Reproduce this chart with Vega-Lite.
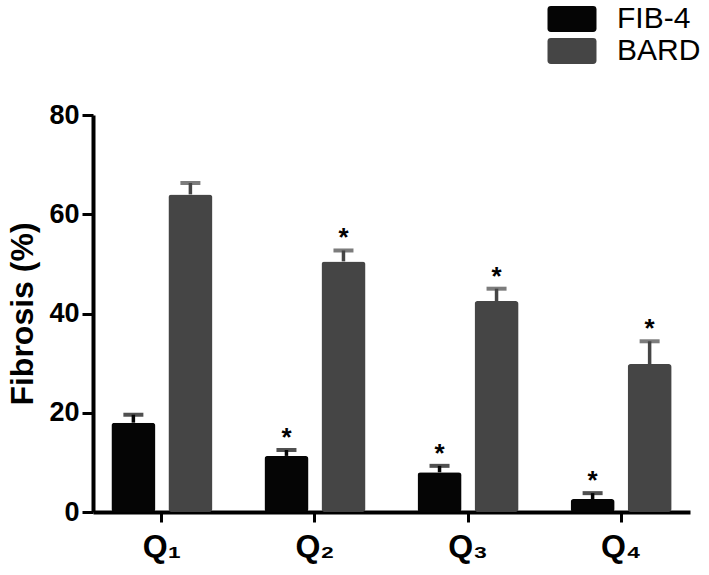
{
  "$schema": "https://vega.github.io/schema/vega-lite/v6.json",
  "width": 597,
  "height": 397,
  "autosize": {"type": "none"},
  "padding": {"left": 93, "top": 115, "right": 19, "bottom": 63},
  "config": {"view": {"stroke": null}, "font": "Liberation Sans"},
  "data": {"values": [
    {"q": "Q₁", "index": "FIB-4", "value": 18.0, "upper": 19.6, "sig": ""},
    {"q": "Q₁", "index": "BARD", "value": 64.0, "upper": 66.3, "sig": ""},
    {"q": "Q₂", "index": "FIB-4", "value": 11.3, "upper": 12.5, "sig": "*"},
    {"q": "Q₂", "index": "BARD", "value": 50.5, "upper": 52.7, "sig": "*"},
    {"q": "Q₃", "index": "FIB-4", "value": 8.0, "upper": 9.3, "sig": "*"},
    {"q": "Q₃", "index": "BARD", "value": 42.5, "upper": 45.0, "sig": "*"},
    {"q": "Q₄", "index": "FIB-4", "value": 2.6, "upper": 3.8, "sig": "*"},
    {"q": "Q₄", "index": "BARD", "value": 29.8, "upper": 34.4, "sig": "*"}
  ]},
  "encoding": {
    "x": {
      "field": "q", "type": "nominal", "sort": ["Q₁", "Q₂", "Q₃", "Q₄"],
      "scale": {"paddingInner": 0.34, "paddingOuter": 0.12},
      "axis": {
        "title": null, "labelAngle": 0, "labelFontSize": 32, "labelFontWeight": "bold",
        "labelColor": "#000", "labelPadding": 9, "domainColor": "#000", "domainWidth": 4,
        "tickColor": "#000", "tickWidth": 3, "tickSize": 10
      }
    },
    "xOffset": {"field": "index", "type": "nominal", "sort": ["FIB-4", "BARD"], "scale": {"paddingInner": 0.228}},
    "color": {
      "field": "index", "type": "nominal", "sort": ["FIB-4", "BARD"],
      "scale": {"domain": ["FIB-4", "BARD"], "range": ["#050505", "#454545"]},
      "legend": {
        "title": null, "orient": "none", "legendX": 464, "legendY": -111,
        "symbolType": "M-1.72,-1.06H1.72Q2,-1.06 2,-0.78V0.78Q2,1.06 1.72,1.06H-1.72Q-2,1.06 -2,0.78V-0.78Q-2,-1.06 -1.72,-1.06Z",
        "symbolSize": 600, "symbolStrokeWidth": 0, "symbolOpacity": 1,
        "labelFontSize": 30, "labelColor": "#000", "labelOffset": 30, "rowPadding": 2, "padding": 0
      }
    }
  },
  "layer": [
    {
      "mark": {"type": "rule", "strokeWidth": 3.5},
      "encoding": {
        "y": {"field": "value", "type": "quantitative"},
        "y2": {"field": "upper"}
      }
    },
    {
      "mark": {"type": "tick", "size": 20, "thickness": 4},
      "encoding": {
        "y": {"field": "upper", "type": "quantitative"}
      }
    },
    {
      "mark": {"type": "bar", "cornerRadius": 3},
      "encoding": {
        "y": {
          "field": "value", "type": "quantitative",
          "scale": {"domain": [0, 80]},
          "axis": {
            "values": [0, 20, 40, 60, 80], "grid": false, "title": "Fibrosis (%)",
            "titleFontSize": 32, "titleFontWeight": "bold", "titleColor": "#000", "titlePadding": 9,
            "labelFontSize": 27, "labelFontWeight": "bold", "labelColor": "#000", "labelPadding": 3,
            "domainColor": "#000", "domainWidth": 4, "tickColor": "#000", "tickWidth": 3, "tickSize": 11
          }
        }
      }
    },
    {
      "mark": {"type": "text", "fontSize": 26, "fontWeight": "bold", "baseline": "middle", "dy": -12},
      "encoding": {
        "y": {"field": "upper", "type": "quantitative"},
        "text": {"field": "sig"},
        "color": {"value": "#000"}
      }
    }
  ]
}
